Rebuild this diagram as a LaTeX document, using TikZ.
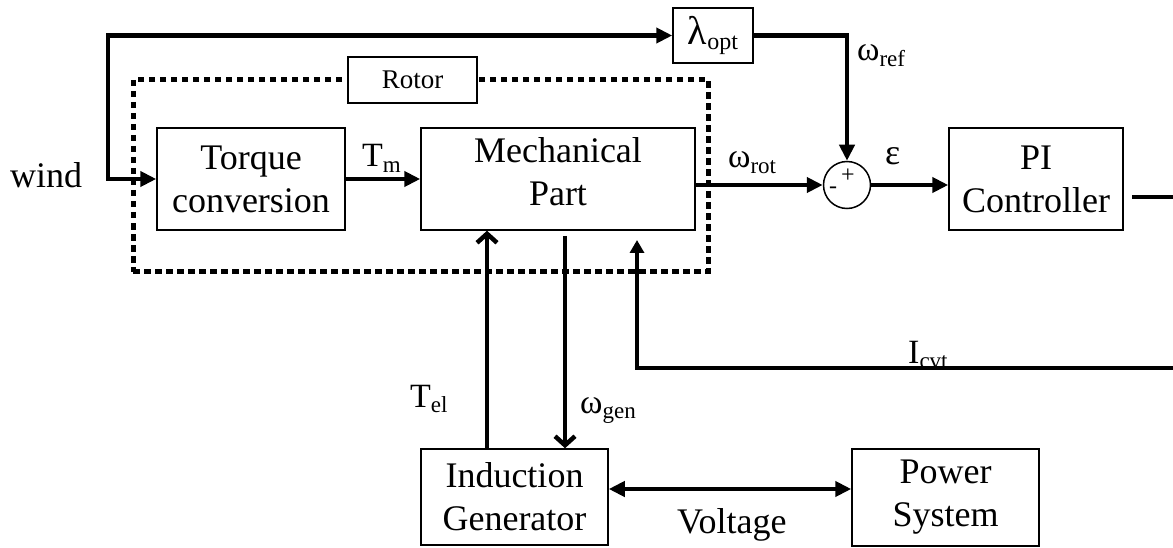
\documentclass[tikz,border=0pt]{standalone}
\usepackage{fontspec}
\setmainfont{Liberation Serif}
\usetikzlibrary{arrows.meta,calc}
\newcommand\subl[2]{#1{\fontsize{23}{23}\selectfont\raisebox{-0.25em}{#2}}}
\begin{document}
\begin{tikzpicture}[x=1pt,y=-1pt,
  every node/.style={font=\fontsize{36}{43}\selectfont, inner sep=0pt},
  blk/.style={draw, line width=1.5pt, fill=white, align=center},
  flow/.style={line width=4.5pt, -{Triangle[length=16pt,width=15pt]}},
  barb/.style={line width=4.5pt, -{Straight Barb[length=9pt,width=20pt]}},
  lbl/.style={anchor=base west, font=\fontsize{34}{40}\selectfont},
  sign/.style={font=\fontsize{24}{24}\selectfont}]
\useasboundingbox (0,0) rectangle (1173,548);

% rotor region (dotted)
\node[draw, line width=5pt, dash pattern=on 6.5pt off 4.5pt,
      minimum width=575pt, minimum height=192pt] (rotreg) at (420.5,176) {};

% blocks
\node[blk, minimum width=129pt, minimum height=46pt, font=\fontsize{27}{30}\selectfont] (rotor) at (412.5,80) {Rotor};
\node[blk, minimum width=188pt, minimum height=102pt] (tc) at (251,179) {Torque\\conversion};
\node[blk, minimum width=274pt, minimum height=102pt] (mp) at (558,179) {};
\node[align=center] (mptext) at (558,172) {Mechanical\\Part};
\node[blk, minimum width=80pt, minimum height=55pt] (lam) at (713,35.5)
  {{\fontsize{40}{40}\selectfont λ}{\fontsize{24}{24}\selectfont\raisebox{-0.2em}{opt}}};
\node[draw, circle, line width=1.5pt, minimum size=47pt] (sum) at (847,185) {};
\node[sign] (plus) at (848,176) {+};
\node[sign] (minus) at (833,190) {-};
\node[blk, minimum width=174pt, minimum height=102pt] (pi) at (1036,179) {PI\\Controller};
\node[blk, minimum width=187pt, minimum height=96pt] (ig) at (514.5,497) {Induction\\Generator};
\node[blk, minimum width=187pt, minimum height=97pt] (ps) at (945.5,497.5) {Power\\System};

% labels
\node[anchor=base west] (wind) at (10,188) {wind};
\node[lbl] (tm) at (362,167) {\subl{T}{m}};
\node[lbl] (wrot) at (728,168) {\subl{ω}{rot}};
\node[lbl] (wref) at (857,61) {\subl{ω}{ref}};
\node[anchor=base west] (eps) at (885,165) {ε};
\node[lbl] (icl) at (908,363) {\subl{I}{cvt}};
\node[lbl] (tel) at (410,407) {\subl{T}{el}};
\node[lbl] (wgen) at (580,413) {\subl{ω}{gen}};
\node[anchor=base west] (volt) at (677,533) {Voltage};

% coordinates
\coordinate (wj) at (108,179);
\coordinate (piout) at (1132,197);
\coordinate (piedge) at (1173,197);
\coordinate (icR) at (1173,368);
\coordinate (icT) at (637,240);
\coordinate (g1) at (565,236);
\coordinate (t1) at ([xshift=-27.5pt]ig.north);

% connectors
\draw[flow, line cap=rect] (wj) |- (lam.west);
\draw[flow] (wj) -- (tc.west);
\draw[flow] (tc.east) -- (mp.west);
\draw[flow] (lam.east) -| (sum.north);
\draw[flow] (mp.east |- sum.west) -- (sum.west);
\draw[flow] (sum.east) -- (sum.east -| pi.west);
\draw[line width=4.5pt] (piout) -- (piedge);
\draw[line width=4.5pt, -{Triangle[length=13pt,width=14pt]}] (icR) -| (icT);
\draw[barb] (t1) -- (t1 |- mp.south);
\draw[barb] (g1) -- (g1 |- ig.north);
\draw[line width=4.5pt, {Triangle[length=16pt,width=15pt]}-{Triangle[length=16pt,width=15pt]}]
  ([yshift=8pt]ig.east) -- ([yshift=8pt]ig.east -| ps.west);
\end{tikzpicture}
\end{document}
